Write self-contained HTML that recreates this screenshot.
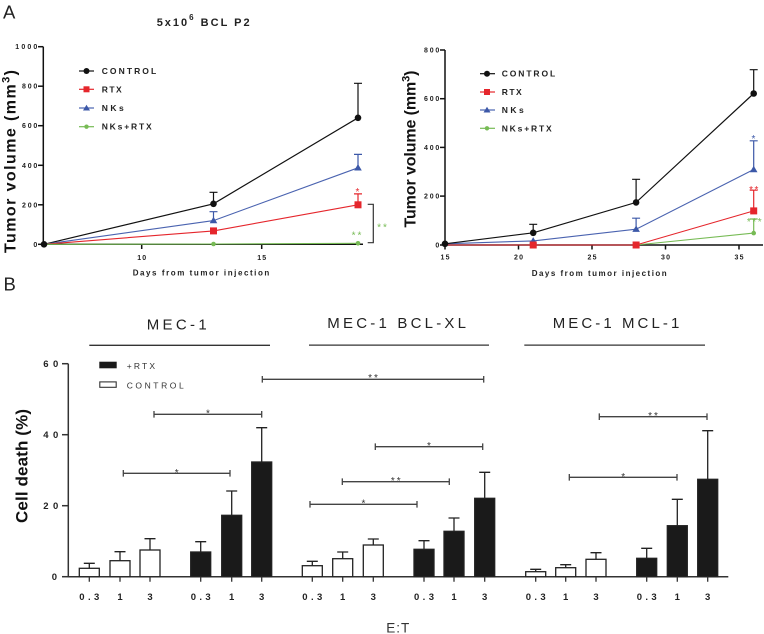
<!DOCTYPE html>
<html><head><meta charset="utf-8"><style>
html,body{margin:0;padding:0;background:#fff;}
svg{display:block;font-family:"Liberation Sans",Arial,sans-serif;}
</style></head><body>
<svg width="764" height="634" viewBox="0 0 764 634" xmlns="http://www.w3.org/2000/svg">
<rect width="764" height="634" fill="#fff"/>

<!-- Panel labels -->
<text x="3" y="18.5" font-size="18.5" fill="#222">A</text>
<text x="3.5" y="290.7" font-size="18.5" fill="#222">B</text>

<!-- Title -->
<text x="156.7" y="26" font-size="11" font-weight="bold" fill="#222" letter-spacing="2">5x10<tspan dy="-6" font-size="8">6</tspan><tspan dy="6"> BCL P2</tspan></text>

<!-- ============ LEFT TOP CHART ============ -->
<g stroke="#111" stroke-width="1.5" fill="none">
  <line x1="43.3" y1="46.7" x2="43.3" y2="245"/>
  <line x1="42.5" y1="244.3" x2="363" y2="244.3"/>
  <line x1="38" y1="46.7" x2="43.3" y2="46.7"/>
  <line x1="38" y1="86.2" x2="43.3" y2="86.2"/>
  <line x1="38" y1="125.7" x2="43.3" y2="125.7"/>
  <line x1="38" y1="165.3" x2="43.3" y2="165.3"/>
  <line x1="38" y1="204.8" x2="43.3" y2="204.8"/>
  <line x1="38" y1="244.3" x2="43.3" y2="244.3"/>
  <line x1="141.7" y1="244.3" x2="141.7" y2="249"/>
  <line x1="261.7" y1="244.3" x2="261.7" y2="249"/>
</g>
<g font-size="7" font-weight="bold" fill="#222" text-anchor="end">
  <text x="37.3" y="49.2" textLength="22" lengthAdjust="spacing">1000</text>
  <text x="37.3" y="88.7" textLength="15.3" lengthAdjust="spacing">800</text>
  <text x="37.3" y="128.2" textLength="15.3" lengthAdjust="spacing">600</text>
  <text x="37.3" y="167.8" textLength="15.3" lengthAdjust="spacing">400</text>
  <text x="37.3" y="207.3" textLength="15.3" lengthAdjust="spacing">200</text>
  <text x="37.3" y="246.8">0</text>
</g>
<g font-size="7" font-weight="bold" fill="#222" text-anchor="middle">
  <text x="141.7" y="260" textLength="9" lengthAdjust="spacing">10</text>
  <text x="261.7" y="260" textLength="9" lengthAdjust="spacing">15</text>
</g>
<text x="132.7" y="275.5" font-size="8" font-weight="bold" fill="#222" textLength="136.6" lengthAdjust="spacing">Days from tumor injection</text>
<text transform="translate(15.5,161.5) rotate(-90)" font-size="16" font-weight="bold" fill="#111" text-anchor="middle" textLength="183" lengthAdjust="spacing">Tumor volume (mm<tspan dy="-6" font-size="11">3</tspan><tspan dy="6">)</tspan></text>

<!-- series left -->
<g stroke-width="1.2" fill="none">
  <path d="M213.5 203.8V192.3M209.5 192.3H217.5M358 117.8V83.3M354 83.3H362" stroke="#111"/>
  <path d="M213.5 220.6V211.7M209.5 211.7H217.5M358 167.8V154.4M354 154.4H362" stroke="#3c58a8"/>
  <path d="M358 204.8V193.9M354 193.9H362" stroke="#e5262c"/>
</g>
<polyline points="44,244.3 213.5,203.8 358,117.8" fill="none" stroke="#111" stroke-width="1.2"/>
<polyline points="44,244.3 213.5,220.6 358,167.8" fill="none" stroke="#4a63b0" stroke-width="1.1"/>
<polyline points="44,244.3 213.5,230.9 358,204.8" fill="none" stroke="#e5262c" stroke-width="1.1"/>
<polyline points="44,244.3 213.5,244 358,243.3" fill="none" stroke="#77bb55" stroke-width="1.1"/>
<circle cx="44" cy="244.3" r="3.3" fill="#111"/>
<circle cx="213.5" cy="203.8" r="3.3" fill="#111"/>
<circle cx="358" cy="117.8" r="3.3" fill="#111"/>
<polygon points="213.5,216.8 217.3,223.3 209.7,223.3" fill="#3c58a8"/>
<polygon points="358,164 361.8,170.5 354.2,170.5" fill="#3c58a8"/>
<rect x="210" y="227.4" width="7" height="7" fill="#e5262c"/>
<rect x="354.5" y="201.3" width="7" height="7" fill="#e5262c"/>
<circle cx="213.5" cy="244" r="2.3" fill="#77bb55"/>
<circle cx="358" cy="243.3" r="2.3" fill="#77bb55"/>
<text x="357.5" y="194.8" font-size="10" fill="#e5262c" text-anchor="middle">*</text>
<text x="357.5" y="238.3" font-size="10" fill="#77bb55" text-anchor="middle" letter-spacing="2">**</text>
<path d="M367.7 204.3H373.3V242.7H367.7" fill="none" stroke="#333" stroke-width="1.2"/>
<text x="383" y="230.6" font-size="10" fill="#77bb55" text-anchor="middle" letter-spacing="2">**</text>

<!-- legend left -->
<g stroke-width="1.2">
  <line x1="79" y1="71" x2="94" y2="71" stroke="#111"/>
  <line x1="79" y1="89.3" x2="94" y2="89.3" stroke="#e5262c"/>
  <line x1="79" y1="108" x2="94" y2="108" stroke="#4a63b0"/>
  <line x1="79" y1="126.7" x2="94" y2="126.7" stroke="#77bb55"/>
</g>
<circle cx="86.5" cy="71" r="3" fill="#111"/>
<rect x="83.5" y="86.3" width="6" height="6" fill="#e5262c"/>
<polygon points="86.5,104.7 90,110.5 83,110.5" fill="#3c58a8"/>
<circle cx="86.5" cy="126.7" r="2.2" fill="#77bb55"/>
<g font-size="8.5" font-weight="bold" fill="#222">
  <text x="101.7" y="74" textLength="54.5" lengthAdjust="spacing">CONTROL</text>
  <text x="101.7" y="92.3" textLength="20" lengthAdjust="spacing">RTX</text>
  <text x="101.7" y="111" textLength="22" lengthAdjust="spacing">NKs</text>
  <text x="101.7" y="129.7" textLength="50" lengthAdjust="spacing">NKs+RTX</text>
</g>

<!-- ============ RIGHT TOP CHART ============ -->
<g stroke="#111" stroke-width="1.5" fill="none">
  <line x1="445" y1="50" x2="445" y2="245.7"/>
  <line x1="444.3" y1="245" x2="763" y2="245"/>
  <line x1="440" y1="50" x2="445" y2="50"/>
  <line x1="440" y1="98.7" x2="445" y2="98.7"/>
  <line x1="440" y1="147.4" x2="445" y2="147.4"/>
  <line x1="440" y1="196.1" x2="445" y2="196.1"/>
  <line x1="440" y1="245" x2="445" y2="245"/>
  <line x1="445" y1="245" x2="445" y2="249.5"/>
  <line x1="518.5" y1="245" x2="518.5" y2="249.5"/>
  <line x1="592" y1="245" x2="592" y2="249.5"/>
  <line x1="665.5" y1="245" x2="665.5" y2="249.5"/>
  <line x1="739" y1="245" x2="739" y2="249.5"/>
</g>
<g font-size="7" font-weight="bold" fill="#222" text-anchor="end">
  <text x="439.3" y="52.5" textLength="15.3" lengthAdjust="spacing">800</text>
  <text x="439.3" y="101.2" textLength="15.3" lengthAdjust="spacing">600</text>
  <text x="439.3" y="149.9" textLength="15.3" lengthAdjust="spacing">400</text>
  <text x="439.3" y="198.6" textLength="15.3" lengthAdjust="spacing">200</text>
  <text x="439.3" y="247.5">0</text>
</g>
<g font-size="7" font-weight="bold" fill="#222" text-anchor="middle">
  <text x="445" y="259.5" textLength="9" lengthAdjust="spacing">15</text>
  <text x="518.5" y="259.5" textLength="9" lengthAdjust="spacing">20</text>
  <text x="592" y="259.5" textLength="9" lengthAdjust="spacing">25</text>
  <text x="665.5" y="259.5" textLength="9" lengthAdjust="spacing">30</text>
  <text x="739" y="259.5" textLength="9" lengthAdjust="spacing">35</text>
</g>
<text x="531.7" y="275.8" font-size="8" font-weight="bold" fill="#222" textLength="135" lengthAdjust="spacing">Days from tumor injection</text>
<text transform="translate(415.5,149) rotate(-90)" font-size="16" font-weight="bold" fill="#111" text-anchor="middle" textLength="157" lengthAdjust="spacing">Tumor volume (mm<tspan dy="-6" font-size="11">3</tspan><tspan dy="6">)</tspan></text>

<g stroke-width="1.2" fill="none">
  <path d="M533.2 232.8V224.3M529.2 224.3H537.2M636.1 202.4V179.3M632.1 179.3H640.1M753.7 93.5V69.7M749.7 69.7H757.7" stroke="#111"/>
  <path d="M636.1 229.2V218.2M632.1 218.2H640.1M753.7 169.5V140.8M749.7 140.8H757.7" stroke="#3c58a8"/>
  <path d="M753.7 210.9V190.2M749.7 190.2H757.7" stroke="#e5262c"/>
  <path d="M753.7 233.1V219M749.7 219H757.7" stroke="#77bb55"/>
</g>
<polyline points="445,245 533.2,245 636.1,245 753.7,233.1" fill="none" stroke="#77bb55" stroke-width="1.1"/>
<polyline points="445,245 533.2,245 636.1,245 753.7,210.9" fill="none" stroke="#e5262c" stroke-width="1.1"/>
<polyline points="445,243.8 533.2,240.9 636.1,229.2 753.7,169.5" fill="none" stroke="#4a63b0" stroke-width="1.1"/>
<polyline points="445,243.8 533.2,232.8 636.1,202.4 753.7,93.5" fill="none" stroke="#111" stroke-width="1.2"/>
<circle cx="445" cy="243.8" r="3.3" fill="#111"/>
<circle cx="533.2" cy="232.8" r="3.3" fill="#111"/>
<circle cx="636.1" cy="202.4" r="3.3" fill="#111"/>
<circle cx="753.7" cy="93.5" r="3.3" fill="#111"/>
<polygon points="533.2,237.1 537,243.6 529.4,243.6" fill="#3c58a8"/>
<polygon points="636.1,225.4 639.9,231.9 632.3,231.9" fill="#3c58a8"/>
<polygon points="753.7,165.7 757.5,172.2 749.9,172.2" fill="#3c58a8"/>
<rect x="529.7" y="241.5" width="7" height="7" fill="#e5262c"/>
<rect x="632.6" y="241.5" width="7" height="7" fill="#e5262c"/>
<rect x="750.2" y="207.4" width="7" height="7" fill="#e5262c"/>
<circle cx="753.7" cy="233.1" r="2.3" fill="#77bb55"/>
<text x="753.5" y="141.8" font-size="10" fill="#3c58a8" text-anchor="middle">*</text>
<text x="754.5" y="192.8" font-size="10" fill="#e5262c" text-anchor="middle" letter-spacing="1.5">**</text>
<text x="755" y="225" font-size="10" fill="#77bb55" text-anchor="middle" letter-spacing="1.5">***</text>

<g stroke-width="1.2">
  <line x1="480" y1="73.7" x2="495" y2="73.7" stroke="#111"/>
  <line x1="480" y1="92" x2="495" y2="92" stroke="#e5262c"/>
  <line x1="480" y1="110" x2="495" y2="110" stroke="#4a63b0"/>
  <line x1="480" y1="128.3" x2="495" y2="128.3" stroke="#77bb55"/>
</g>
<circle cx="487" cy="73.7" r="3" fill="#111"/>
<rect x="484" y="89" width="6" height="6" fill="#e5262c"/>
<polygon points="487,106.7 490.5,112.5 483.5,112.5" fill="#3c58a8"/>
<circle cx="487" cy="128.3" r="2.2" fill="#77bb55"/>
<g font-size="8.5" font-weight="bold" fill="#222">
  <text x="501.7" y="76.7" textLength="53.5" lengthAdjust="spacing">CONTROL</text>
  <text x="501.7" y="95" textLength="20" lengthAdjust="spacing">RTX</text>
  <text x="501.7" y="113" textLength="22" lengthAdjust="spacing">NKs</text>
  <text x="501.7" y="131.3" textLength="50" lengthAdjust="spacing">NKs+RTX</text>
</g>

<!-- ============ BOTTOM CHART ============ -->
<g font-size="15" fill="#222">
  <text x="146.7" y="329.3" textLength="60" lengthAdjust="spacing">MEC-1</text>
  <text x="327.3" y="327.8" textLength="138.7" lengthAdjust="spacing">MEC-1 BCL-XL</text>
  <text x="552.7" y="327.8" textLength="126.6" lengthAdjust="spacing">MEC-1 MCL-1</text>
</g>
<g stroke="#333" stroke-width="1.3">
  <line x1="89.3" y1="345.3" x2="270" y2="345.3"/>
  <line x1="309" y1="345.1" x2="489" y2="345.1"/>
  <line x1="524.3" y1="345.1" x2="705" y2="345.1"/>
</g>

<g stroke="#333" stroke-width="1.5" fill="none">
  <line x1="68.3" y1="363.7" x2="68.3" y2="577.4"/>
  <line x1="67.5" y1="576.7" x2="728.3" y2="576.7"/>
  <line x1="62" y1="363.7" x2="68.3" y2="363.7"/>
  <line x1="62" y1="434.7" x2="68.3" y2="434.7"/>
  <line x1="62" y1="505.7" x2="68.3" y2="505.7"/>
  <line x1="62" y1="576.7" x2="68.3" y2="576.7"/>
</g>
<g font-size="9.5" font-weight="bold" fill="#222" text-anchor="end">
  <text x="58.3" y="367.1" textLength="15" lengthAdjust="spacing">60</text>
  <text x="58.3" y="438.1" textLength="15" lengthAdjust="spacing">40</text>
  <text x="58.3" y="509.1" textLength="15" lengthAdjust="spacing">20</text>
  <text x="57" y="580.1">0</text>
</g>
<text transform="translate(27.5,466) rotate(-90)" font-size="17" font-weight="bold" fill="#111" text-anchor="middle" textLength="114" lengthAdjust="spacing">Cell death (%)</text>

<g stroke="#222" stroke-width="1.3" fill="none">
  <path d="M89.3 568.3V563.3M83.8 563.3H94.8"/>
  <path d="M120 560.7V551.7M114.5 551.7H125.5"/>
  <path d="M150 550V538.7M144.5 538.7H155.5"/>
  <path d="M200.7 552V541.7M195.2 541.7H206.2"/>
  <path d="M231.7 515.3V491M226.2 491H237.2"/>
  <path d="M261.7 462V427.7M256.2 427.7H267.2"/>
  <path d="M312.3 565.7V561.3M306.8 561.3H317.8"/>
  <path d="M342.7 558.7V552M337.2 552H348.2"/>
  <path d="M373.3 545V539M367.8 539H378.8"/>
  <path d="M424 549.3V540.7M418.5 540.7H429.5"/>
  <path d="M454 531.3V518M448.5 518H459.5"/>
  <path d="M484.7 498.3V472.3M479.2 472.3H490.2"/>
  <path d="M535.7 571.7V569.3M530.2 569.3H541.2"/>
  <path d="M565.7 567.7V564.7M560.2 564.7H571.2"/>
  <path d="M596 559.3V552.7M590.5 552.7H601.5"/>
  <path d="M646.7 558.3V548.3M641.2 548.3H652.2"/>
  <path d="M677.3 525.7V499.3M671.8 499.3H682.8"/>
  <path d="M707.7 479.3V430.7M702.2 430.7H713.2"/>
</g>
<g stroke="#222" stroke-width="1.3">
  <rect x="79.3" y="568.3" width="20" height="8.4" fill="#fff"/>
  <rect x="110" y="560.7" width="20" height="16" fill="#fff"/>
  <rect x="140" y="550" width="20" height="26.7" fill="#fff"/>
  <rect x="190.7" y="552" width="20" height="24.7" fill="#1a1a1a"/>
  <rect x="221.7" y="515.3" width="20" height="61.4" fill="#1a1a1a"/>
  <rect x="251.7" y="462" width="20" height="114.7" fill="#1a1a1a"/>

  <rect x="302.3" y="565.7" width="20" height="11" fill="#fff"/>
  <rect x="332.7" y="558.7" width="20" height="18" fill="#fff"/>
  <rect x="363.3" y="545" width="20" height="31.7" fill="#fff"/>
  <rect x="414" y="549.3" width="20" height="27.4" fill="#1a1a1a"/>
  <rect x="444" y="531.3" width="20" height="45.4" fill="#1a1a1a"/>
  <rect x="474.7" y="498.3" width="20" height="78.4" fill="#1a1a1a"/>

  <rect x="525.7" y="571.7" width="20" height="5" fill="#fff"/>
  <rect x="555.7" y="567.7" width="20" height="9" fill="#fff"/>
  <rect x="586" y="559.3" width="20" height="17.4" fill="#fff"/>
  <rect x="636.7" y="558.3" width="20" height="18.4" fill="#1a1a1a"/>
  <rect x="667.3" y="525.7" width="20" height="51" fill="#1a1a1a"/>
  <rect x="697.7" y="479.3" width="20" height="97.4" fill="#1a1a1a"/>
</g>
<g stroke="#333" stroke-width="1.3">
  <path d="M89.3 576.7v5M120 576.7v5M150 576.7v5M200.7 576.7v5M231.7 576.7v5M261.7 576.7v5M312.3 576.7v5M342.7 576.7v5M373.3 576.7v5M424 576.7v5M454 576.7v5M484.7 576.7v5M535.7 576.7v5M565.7 576.7v5M596 576.7v5M646.7 576.7v5M677.3 576.7v5M707.7 576.7v5"/>
</g>
<g font-size="9.5" font-weight="bold" fill="#222" text-anchor="middle">
  <text x="89.3" y="600" textLength="20" lengthAdjust="spacing">0.3</text>
  <text x="120" y="600">1</text>
  <text x="150" y="600">3</text>
  <text x="200.7" y="600" textLength="20" lengthAdjust="spacing">0.3</text>
  <text x="231.7" y="600">1</text>
  <text x="261.7" y="600">3</text>
  <text x="312.3" y="600" textLength="20" lengthAdjust="spacing">0.3</text>
  <text x="342.7" y="600">1</text>
  <text x="373.3" y="600">3</text>
  <text x="424" y="600" textLength="20" lengthAdjust="spacing">0.3</text>
  <text x="454" y="600">1</text>
  <text x="484.7" y="600">3</text>
  <text x="535.7" y="600" textLength="20" lengthAdjust="spacing">0.3</text>
  <text x="565.7" y="600">1</text>
  <text x="596" y="600">3</text>
  <text x="646.7" y="600" textLength="20" lengthAdjust="spacing">0.3</text>
  <text x="677.3" y="600">1</text>
  <text x="707.7" y="600">3</text>
</g>
<text x="398.3" y="632.5" font-size="13.5" fill="#333" text-anchor="middle" letter-spacing="1">E:T</text>

<rect x="99.3" y="361.7" width="17.4" height="6.6" fill="#1a1a1a"/>
<rect x="99.8" y="381.9" width="16.4" height="5.4" fill="#fff" stroke="#333" stroke-width="1.1"/>
<g font-size="8.5" fill="#333">
  <text x="126.7" y="369" textLength="28.3" lengthAdjust="spacing">+RTX</text>
  <text x="126.7" y="388.3" textLength="57" lengthAdjust="spacing">CONTROL</text>
</g>

<g stroke="#444" stroke-width="1.3" fill="none">
  <path d="M123.3 470v6.6M123.3 473.3H230M230 470v6.6"/>
  <path d="M154 411v6.6M154 414.3H261.7M261.7 411v6.6"/>
  <path d="M262.3 376v6.6M262.3 379.3H483.7M483.7 376v6.6"/>
  <path d="M375.3 443.4v6.6M375.3 446.7H482.7M482.7 443.4v6.6"/>
  <path d="M342.3 478.4v6.6M342.3 481.7H449.3M449.3 478.4v6.6"/>
  <path d="M310 501v6.6M310 504.3H417M417 501v6.6"/>
  <path d="M569.3 474v6.6M569.3 477.3H677M677 474v6.6"/>
  <path d="M599.3 413.4v6.6M599.3 416.7H707M707 413.4v6.6"/>
</g>
<g font-size="10" fill="#333" text-anchor="middle">
  <text x="176.7" y="475.8">*</text>
  <text x="207.9" y="416.5">*</text>
  <text x="374" y="380.8" letter-spacing="2">**</text>
  <text x="429" y="449.1">*</text>
  <text x="396.8" y="484.1" letter-spacing="2">**</text>
  <text x="363.5" y="506.5">*</text>
  <text x="623.2" y="479.8">*</text>
  <text x="654" y="419.1" letter-spacing="2">**</text>
</g>
</svg>
</body></html>
